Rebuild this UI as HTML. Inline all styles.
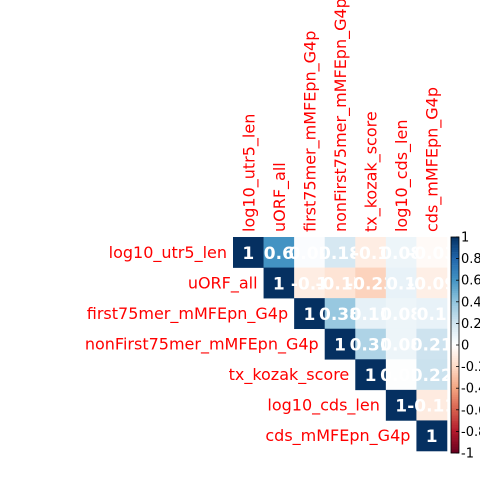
<!DOCTYPE html>
<html><head><meta charset="utf-8"><style>
body{margin:0;background:#fff;}
svg text{font-family:"DejaVu Sans","Liberation Sans",sans-serif;}
</style></head><body>
<svg id="chart" width="480" height="480" xmlns="http://www.w3.org/2000/svg"></svg>
<script>
const variables=["log10_utr5_len","uORF_all","first75mer_mMFEpn_G4p","nonFirst75mer_mMFEpn_G4p","tx_kozak_score","log10_cds_len","cds_mMFEpn_G4p"];
const row0=[1,0.6,0.02,0.18,-0.1,0.08,-0.03];
const row1=[1,-0.1,-0.15,-0.23,0.1,-0.09];
const row2=[1,0.38,0.11,0.08,0.1];
const row3=[1,0.31,0.08,0.21];
const row4=[1,0.01,0.22];
const row5=[1,-0.11];
const row6=[1];
const rows=[row0,row1,row2,row3,row4,row5,row6];
const colorTicks=[1,0.8,0.6,0.4,0.2,0,-0.2,-0.4,-0.6,-0.8,-1];
const pal=["#67001F","#B2182B","#D6604D","#F4A582","#FDDBC7","#FFFFFF","#D1E5F0","#92C5DE","#4393C3","#2166AC","#053061"];
const NS="http://www.w3.org/2000/svg";
const svg=document.getElementById('chart');
const x0=233,y0=237,cw=30.57;
function h2r(h){return [1,3,5].map(i=>parseInt(h.substr(i,2),16));}
function col(v){let t=(v+1)/2*10;let i=Math.min(9,Math.floor(t));let f=t-i;let a=h2r(pal[i]),b=h2r(pal[i+1]);return 'rgb('+a.map((c,k)=>Math.round(c+(b[k]-c)*f)).join(',')+')';}
function el(tag,attrs,txt){const e=document.createElementNS(NS,tag);for(const k in attrs)e.setAttribute(k,attrs[k]);if(txt!==undefined)e.textContent=txt;svg.appendChild(e);return e;}
function fmt(v){return String(v);}
rows.forEach((r,i)=>{r.forEach((v,k)=>{const j=i+k;
 const c=el('rect',{x:x0+j*cw,y:y0+i*cw,width:cw+0.3,height:cw+0.3,fill:col(v)});
 
 
 const t=el('text',{x:x0+j*cw+cw/2,y:y0+i*cw+cw/2+6.5,'text-anchor':'middle','font-size':17,'font-weight':'bold',fill:'#fff'},fmt(v));
 
 
});});
variables.forEach((n,i)=>{
 const t=el('text',{x:x0+i*cw-6,y:y0+i*cw+cw/2+5.5,'text-anchor':'end','font-size':16,fill:'#f00'},n);
 
 
 const cx=x0+i*cw+cw/2+6,cy=y0-5;
 const u=el('text',{x:cx,y:cy,transform:'rotate(-90 '+cx+' '+cy+')','font-size':16,fill:'#f00'},n);
 
 
});
const bx=451,bw=8,bt=237,bb=453;
for(let k=0;k<100;k++){const v=1-2*(k+0.5)/100;const h=(bb-bt)/100;
 const r=el('rect',{x:bx,y:bt+k*h,width:bw,height:h+0.3,fill:col(v)});
 
 }
const fr=el('rect',{x:bx,y:bt,width:bw,height:bb-bt,fill:'none',stroke:'#000','stroke-width':0.8});


colorTicks.forEach(v=>{const y=bt+(1-v)/2*(bb-bt);
 const l=el('line',{x1:bx+bw-3,x2:bx+bw,y1:y,y2:y,stroke:'#000','stroke-width':0.8});
 
 
 const t=el('text',{x:bx+bw+2,y:y+4.5,'font-size':13,fill:'#000'},String(v));
 
 });
</script>
</body></html>
